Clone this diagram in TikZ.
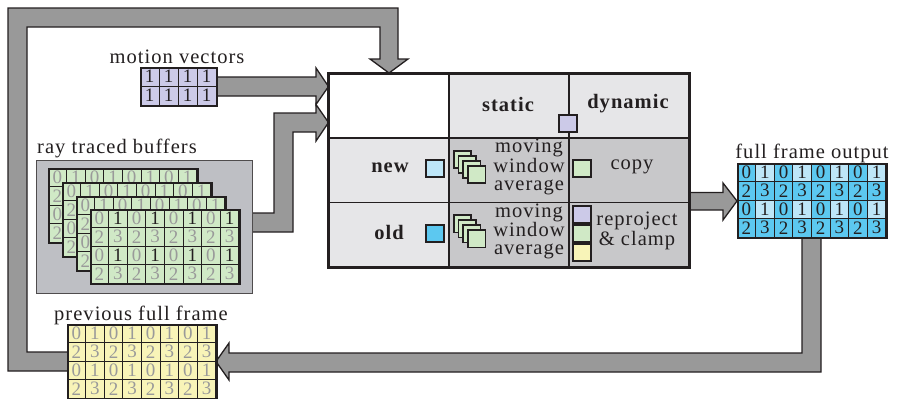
\documentclass[tikz,border=0pt]{standalone}
\usepackage{fontspec}
\setmainfont{Liberation Serif}[LetterSpace=5]
\usetikzlibrary{calc}
\definecolor{linedark}{HTML}{231F20}
\definecolor{bandgray}{HTML}{999999}
\definecolor{boxgray}{HTML}{BEBFC4}
\definecolor{celllight}{HTML}{E6E6E8}
\definecolor{celldark}{HTML}{C8C8CA}
\definecolor{bufgreen}{HTML}{D0E9C6}
\definecolor{prevyellow}{HTML}{F8F4B8}
\definecolor{outblue}{HTML}{5CC8F0}
\definecolor{newblue}{HTML}{BEE6F8}
\definecolor{mvpurple}{HTML}{CCCAE8}
\definecolor{digitgray}{HTML}{9A9A9A}
\newcommand\lbl{\fontsize{20.5}{18}\selectfont}
\newcommand\digfont{\fontsize{19}{19}\selectfont}

% one 8x4 sample grid: name, x, y (top left), fill of 1-cells, fill of others, text of 1-cells, text of others,
% last arg 1 = all digits, 0 = only the digits of top row / left column (grid lies behind another one)
\newcommand\framegrid[8]{%
  \foreach \r in {0,...,3}{
    \foreach \c in {0,...,7}{
      \pgfmathtruncatemacro\dig{2*mod(\r,2)+mod(\c,2)}
      \pgfmathtruncatemacro\shown{(#8==1)||(\r==0)||(\c==0)}
      \ifnum\dig=1 \def\cf{#4}\def\ct{#6}\else \def\cf{#5}\def\ct{#7}\fi
      \node[cell, fill=\cf, text=\ct] (#1-\r-\c) at (#2+\c*18.6+9.3, #3+\r*18.5+9.25) {\ifnum\shown=1 \dig\fi};
    }
  }
  \node[gridbox, anchor=north west] (#1) at (#2,#3) {};
}

\begin{document}
\begin{tikzpicture}[
        x=1pt, y=-1pt,
        band/.style={fill=bandgray, draw=linedark, line width=1.3pt, line join=miter},
        cell/.style={draw=linedark, line width=1pt, minimum width=18.6pt, minimum height=18.5pt, inner sep=0pt, font=\digfont},
        gridbox/.style={draw=linedark, line width=2.2pt, minimum width=148.8pt, minimum height=74pt, inner sep=0pt},
        tcell/.style={draw=linedark, line width=1.6pt, minimum width=120pt, minimum height=64.3pt, inner sep=0pt, anchor=north west},
        sq/.style={draw=linedark, line width=1.6pt, minimum size=17.5pt, inner sep=0pt},
        txt/.style={inner sep=0pt, text=linedark, font=\lbl},
        head/.style={txt, font=\lbl\bfseries}
    ]
        \useasboundingbox (0,0) rectangle (898,399);

        % feedback loop into the table
        \draw[band] (67,352) -- (27,352) -- (27,27) -- (380,27) -- (380,59) -- (370,59)
            -- (389,73) -- (408,59) -- (398,59) -- (398,8) -- (8,8) -- (8,371) -- (67,371);

        % motion vectors -> table
        \draw[band] (216,77) -- (316,77) -- (316,68) -- (328.5,86.5) -- (316,104.5) -- (316,96) -- (216,96);

        % ray traced buffers -> table
        \draw[band] (252,213) -- (274,213) -- (274,113) -- (316,113) -- (316,104.5)
            -- (328.5,122.5) -- (316,141) -- (316,132) -- (293,132) -- (293,232) -- (252,232);

        % table -> output
        \draw[band] (688,192.5) -- (723,192.5) -- (723,183) -- (737,201) -- (723,220) -- (723,210) -- (688,210);

        % output -> previous frame
        \draw[band] (802,238) -- (802,353) -- (229,353) -- (229,343) -- (216,361.5)
            -- (229,380) -- (229,372) -- (821,372) -- (821,238);

        % Motion vectors
        \node[txt, anchor=base] (mvlabel) at (177,63) {motion vectors};
        \foreach \r in {0,1}{
            \foreach \c in {0,...,3}{
                \node[cell, minimum width=19pt, minimum height=19pt, fill=mvpurple, text=linedark] (mv-\r-\c) at (149.5+\c*19, 76.5+\r*19) {1};
            }
        }
        \node[gridbox, minimum width=76pt, minimum height=38pt, anchor=north west] (mv) at (140,67) {};

        % Ray traced buffers
        \node[txt, anchor=base] (rtlabel) at (117,153) {ray traced buffers};
        \node[draw=linedark!80, line width=0.8pt, fill=boxgray, minimum width=216pt, minimum height=133pt, anchor=north west] (rtb) at (36,160) {};
        \framegrid{bufA}{48}{168}{bufgreen}{bufgreen}{digitgray}{digitgray}{0}
        \framegrid{bufB}{62}{182}{bufgreen}{bufgreen}{digitgray}{digitgray}{0}
        \framegrid{bufC}{76}{196}{bufgreen}{bufgreen}{digitgray}{digitgray}{0}
        \framegrid{bufD}{90}{209}{bufgreen}{bufgreen}{linedark}{digitgray}{1}

        % Previous full frame
        \node[txt, anchor=base] (prevlabel) at (141,320) {previous full frame};
        \framegrid{prev}{67}{324}{prevyellow}{prevyellow}{digitgray}{digitgray}{1}

        % Full frame output
        \node[txt, anchor=base] (outlabel) at (812,158) {full frame output};
        \framegrid{out}{737}{163}{newblue}{outblue}{linedark}{linedark}{1}

        % Table
        \node[tcell, fill=white] (c00) at (328,73) {};
        \node[tcell, fill=celllight] (c01) at (448,73) {};
        \node[tcell, fill=celllight] (c02) at (568,73) {};
        \node[tcell, fill=celllight] (c10) at (328,137.3) {};
        \node[tcell, fill=celldark] (c11) at (448,137.3) {};
        \node[tcell, fill=celldark] (c12) at (568,137.3) {};
        \node[tcell, fill=celllight] (c20) at (328,201.6) {};
        \node[tcell, fill=celldark] (c21) at (448,201.6) {};
        \node[tcell, fill=celldark] (c22) at (568,201.6) {};
        \draw[linedark, line width=2.6pt] (c00.north west) rectangle (c22.south east);

        \node[head] (static) at (508,104) {static};
        \node[head] (dynamic) at (628,104) {dynamic};
        \node[sq, fill=mvpurple] (mvsq) at (568,123.5) {};

        \node[head] (new) at (390,168) {new};
        \node[sq, fill=newblue] (newsq) at (435,168.5) {};
        \node[head] (old) at (389,232) {old};
        \node[sq, fill=outblue] (oldsq) at (435,233.5) {};

        % moving window average stacks
        \foreach \k in {0,...,3}{
            \node[sq, fill=bufgreen] (stkA\k) at (462.5+4.7*\k, 159.5+5*\k) {};
            \node[sq, fill=bufgreen] (stkB\k) at (462.5+4.7*\k, 223.8+5*\k) {};
        }
        \node[txt, align=center] (mwaA) at (529,167) {moving\\window\\average};
        \node[txt, align=center] (mwaB) at (529,231.5) {moving\\window\\average};

        \node[sq, fill=bufgreen] (copysq) at (582,168.5) {};
        \node[txt] (copy) at (632,167) {copy};

        \node[sq, fill=mvpurple] (rpA) at (582,214.5) {};
        \node[sq, fill=bufgreen] (rpB) at (582,233.5) {};
        \node[sq, fill=prevyellow] (rpC) at (582,252.5) {};
        \node[txt, align=center] (reproject) at (637,231) {reproject\\\& clamp};

    \end{tikzpicture}
\end{document}
